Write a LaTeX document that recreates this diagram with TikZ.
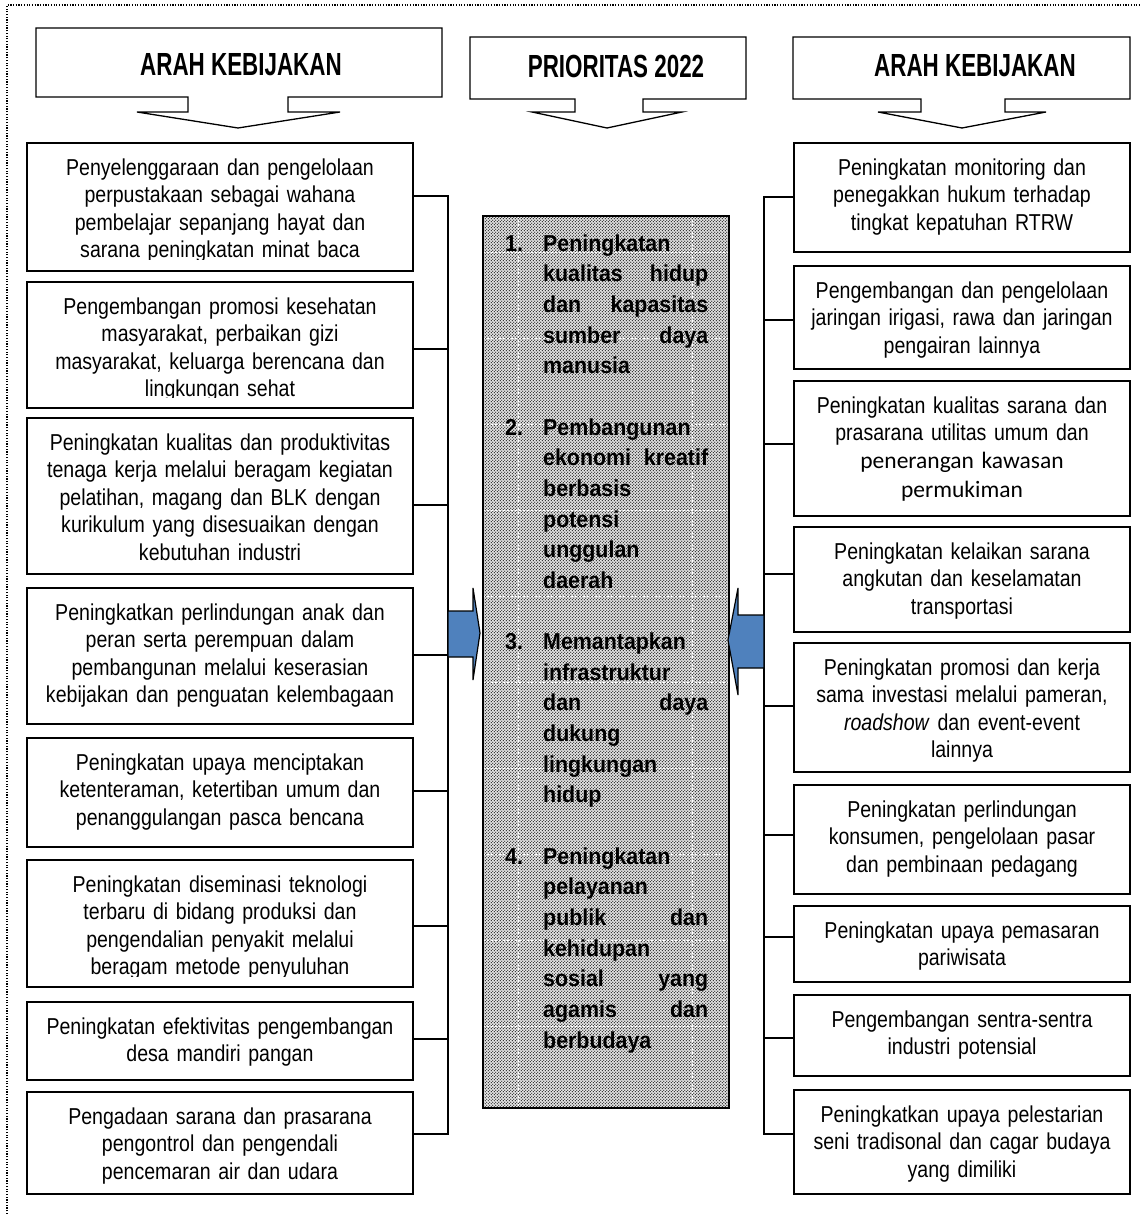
\documentclass[tikz,border=0pt]{standalone}
\usepackage{fontspec}
\setmainfont{Liberation Sans}
\newfontfamily\hdfont[FakeStretch=0.7]{Liberation Sans}
\newfontfamily\bxfont[FakeStretch=0.85]{Liberation Sans}
\newfontfamily\ctfont[FakeStretch=0.93]{Liberation Sans}
\newfontfamily\carl{Carlito}
\usetikzlibrary{patterns}
\definecolor{arrblue}{RGB}{79,129,189}

\pgfdeclarepatternformonly{bigdots}{\pgfpoint{-1pt}{-1pt}}{\pgfpoint{4pt}{4pt}}{\pgfpoint{3pt}{3pt}}{%
  \pgfpathcircle{\pgfpoint{0.75pt}{0.75pt}}{0.74pt}%
  \pgfpathcircle{\pgfpoint{2.25pt}{2.25pt}}{0.74pt}%
  \pgfusepath{fill}}

\tikzset{
  boxst/.style={draw=black, line width=1.3pt, rectangle, inner sep=0pt},
  txtst/.style={anchor=north, inner sep=0pt, text width=420pt, align=center,
    font=\bxfont\fontsize{23pt}{27.5pt}\selectfont},
  conn/.style={draw=black, line width=1.3pt},
  hdr/.style={draw=black, line width=1.3pt, fill=white, line join=miter},
  hdrtxt/.style={font=\hdfont\bfseries\fontsize{32pt}{36pt}\selectfont, inner sep=0pt},
  barrow/.style={fill=arrblue, draw=black, line width=1.2pt, line join=miter},
  gridw/.style={white, line width=0.8pt, dash pattern=on 2pt off 2pt},
}

\newcommand\mybox[6]{%
  \node[boxst, minimum width={(#4)-(#2)}, minimum height={(#5)-(#3)}] (#1)
    at ({((#2)+(#4))/2},{((#3)+(#5))/2}) {};
  \begin{scope}
    \clip (#2,#3) rectangle (#4,#5-11);
    \node[txtst] (#1t) at ({((#2)+(#4))/2},{(#3)+12}) {\rule{0pt}{20pt}#6};
  \end{scope}}

\newcommand\hdrshape[9]{%
  \draw[hdr] (#1,#2) -- (#3,#2) -- (#3,#4) -- (#6,#4) -- (#6,112) -- (#8,112)
    -- (#9,128) -- (#7,112) -- (#5,112) -- (#5,#4) -- (#1,#4) -- cycle;}

\newcommand\prline[2]{\hbox to 203pt{\hbox to 38pt{#1\hfil}\hbox to 165pt{#2}}}

\begin{document}
\begin{tikzpicture}[x=1pt,y=-1pt]
\useasboundingbox (0,0) rectangle (1141,1214);

% outer dotted frame
\draw[line width=1.2pt, dash pattern=on 1.2pt off 1.5pt] (7,1214) -- (7,5) -- (1141,5);

% headers
\hdrshape{36}{28}{442}{97}{188}{288}{137}{340}{238}
\node[hdrtxt] (h1) at (241,65) {ARAH KEBIJAKAN};
\hdrshape{470}{37}{746}{99}{575}{643}{532}{682}{607}
\node[hdrtxt] (h2) at (616,66) {PRIORITAS 2022};
\hdrshape{793}{37}{1130}{99}{921}{1005}{878}{1046}{962}
\node[hdrtxt] (h3) at (975,66) {ARAH KEBIJAKAN};

% left boxes
\mybox{L1}{27}{143}{413}{271}{Penyelenggaraan dan pengelolaan\\perpustakaan sebagai wahana\\pembelajar sepanjang hayat dan\\sarana peningkatan minat baca}
\mybox{L2}{27}{282}{413}{408}{Pengembangan promosi kesehatan\\masyarakat, perbaikan gizi\\masyarakat, keluarga berencana dan\\lingkungan sehat}
\mybox{L3}{27}{418}{413}{574}{Peningkatan kualitas dan produktivitas\\tenaga kerja melalui beragam kegiatan\\pelatihan, magang dan BLK dengan\\kurikulum yang disesuaikan dengan\\kebutuhan industri}
\mybox{L4}{27}{588}{413}{724}{Peningkatkan perlindungan anak dan\\peran serta perempuan dalam\\pembangunan melalui keserasian\\kebijakan dan penguatan kelembagaan}
\mybox{L5}{27}{738}{413}{847}{Peningkatan upaya menciptakan\\ketenteraman, ketertiban umum dan\\penanggulangan pasca bencana}
\mybox{L6}{27}{860}{413}{987}{Peningkatan diseminasi teknologi\\terbaru di bidang produksi dan\\pengendalian penyakit melalui\\beragam metode penyuluhan}
\mybox{L7}{27}{1002}{413}{1080}{Peningkatan efektivitas pengembangan\\desa mandiri pangan}
\mybox{L8}{27}{1092}{413}{1194}{Pengadaan sarana dan prasarana\\pengontrol dan pengendali\\pencemaran air dan udara}

% right boxes
\mybox{R1}{794}{143}{1130}{252}{Peningkatan monitoring dan\\penegakkan hukum terhadap\\tingkat kepatuhan RTRW}
\mybox{R2}{794}{266}{1130}{369}{Pengembangan dan pengelolaan\\jaringan irigasi, rawa dan jaringan\\pengairan lainnya}
\mybox{R3}{794}{381}{1130}{516}{Peningkatan kualitas sarana dan\\prasarana utilitas umum dan\\{\carl\fontsize{23.5pt}{29pt}\selectfont penerangan kawasan}\\[1.5pt]{\carl\fontsize{23.5pt}{29pt}\selectfont permukiman}}
\mybox{R4}{794}{527}{1130}{632}{Peningkatan kelaikan sarana\\angkutan dan keselamatan\\transportasi}
\mybox{R5}{794}{643}{1130}{772}{Peningkatan promosi dan kerja\\sama investasi melalui pameran,\\\textit{roadshow} dan event-event\\lainnya}
\mybox{R6}{794}{785}{1130}{894}{Peningkatan perlindungan\\konsumen, pengelolaan pasar\\dan pembinaan pedagang}
\mybox{R7}{794}{906}{1130}{982}{Peningkatan upaya pemasaran\\pariwisata}
\mybox{R8}{794}{995}{1130}{1076}{Pengembangan sentra-sentra\\industri potensial}
\mybox{R9}{794}{1090}{1130}{1194}{Peningkatkan upaya pelestarian\\seni tradisonal dan cagar budaya\\yang dimiliki}

% spine coordinates
\coordinate (sL1) at (448,196);
\coordinate (sL2) at (448,349);
\coordinate (sL3) at (448,505);
\coordinate (sL4) at (448,655);
\coordinate (sL5) at (448,791);
\coordinate (sL6) at (448,926);
\coordinate (sL7) at (448,1039);
\coordinate (sL8) at (448,1134);
\coordinate (sR1) at (764,197);
\coordinate (sR2) at (764,320);
\coordinate (sR3) at (764,444);
\coordinate (sR4) at (764,574);
\coordinate (sR5) at (764,706);
\coordinate (sR6) at (764,835);
\coordinate (sR7) at (764,937);
\coordinate (sR8) at (764,1038);
\coordinate (sR9) at (764,1134);

\draw[conn] (L1.east |- sL1) -- (sL1) -- (sL8) -- (L8.east |- sL8);
\foreach \i in {2,...,7} {\draw[conn] (L\i.east |- sL\i) -- (sL\i);}
\draw[conn] (R1.west |- sR1) -- (sR1) -- (sR9) -- (R9.west |- sR9);
\foreach \i in {2,...,8} {\draw[conn] (R\i.west |- sR\i) -- (sR\i);}

% centre box
\node[inner sep=0pt, minimum width=246, minimum height=892] (prio) at (606,662) {};
\fill[gray!18] (prio.north west) rectangle (prio.south east);
\fill[pattern=bigdots, pattern color=black!85] (prio.north west) rectangle (prio.south east);
\draw[gridw] (518,216) -- (518,1108);
\draw[gridw] (692,216) -- (692,1108);
\foreach \yy in {252,338,424,510,596,682,768,854,940,1026} {\draw[gridw] (483,\yy) -- (729,\yy);}
\draw[line width=1.5pt] (prio.north west) rectangle (prio.south east);

\node[anchor=north west, inner sep=0pt, font=\ctfont\bfseries\fontsize{23pt}{30.65pt}\selectfont] (ptxt) at (505,231) {\vbox{\baselineskip=30.65pt \lineskiplimit=-50pt \lineskip=0pt
\prline{1.}{\rule{0pt}{20pt}Peningkatan\hfil}
\prline{}{kualitas\hfil hidup}
\prline{}{dan\hfil kapasitas}
\prline{}{sumber\hfil daya}
\prline{}{manusia\hfil}
\hbox{}
\prline{2.}{Pembangunan\hfil}
\prline{}{ekonomi\hfil kreatif}
\prline{}{berbasis\hfil}
\prline{}{potensi\hfil}
\prline{}{unggulan\hfil}
\prline{}{daerah\hfil}
\hbox{}
\prline{3.}{Memantapkan\hfil}
\prline{}{infrastruktur\hfil}
\prline{}{dan\hfil daya}
\prline{}{dukung\hfil}
\prline{}{lingkungan\hfil}
\prline{}{hidup\hfil}
\hbox{}
\prline{4.}{Peningkatan\hfil}
\prline{}{pelayanan\hfil}
\prline{}{publik\hfil dan}
\prline{}{kehidupan\hfil}
\prline{}{sosial\hfil yang}
\prline{}{agamis\hfil dan}
\prline{}{berbudaya\hfil}}};

% blue block arrows
\draw[barrow] (sL4 |- 0,611) -- (473,611) -- (473,588) -- (480,633) -- (473,680) -- (473,657) -- (sL4 |- 0,657) -- cycle;
\draw[barrow] (sR5 |- 0,615) -- (738,615) -- (738,588) -- (728,640) -- (738,695) -- (738,668) -- (sR5 |- 0,668) -- cycle;

\end{tikzpicture}
\end{document}
